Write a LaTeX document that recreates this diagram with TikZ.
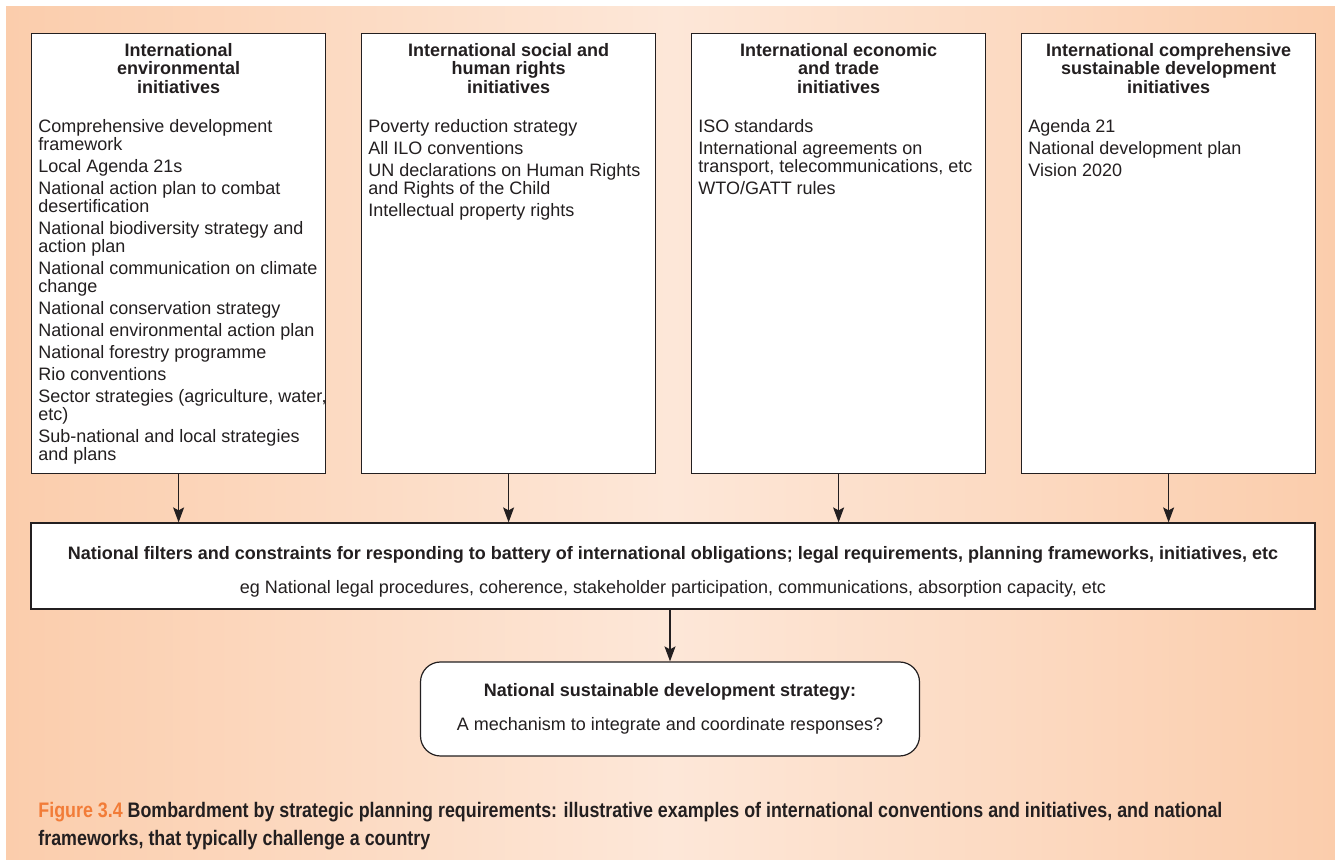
\documentclass[tikz,border=0pt]{standalone}
\usepackage{fontspec}
\setmainfont{Liberation Sans}
\newfontfamily\capfont[FakeStretch=0.85]{Liberation Sans}
\usetikzlibrary{arrows.meta,positioning}
\definecolor{bgedge}{HTML}{FBCDAC}
\definecolor{bgmid}{HTML}{FDE7D8}
\definecolor{figorange}{HTML}{F27C38}
\definecolor{inkgray}{HTML}{231F20}
\begin{document}
\begin{tikzpicture}[
    x=0.5pt, y=-0.5pt,
    font=\fontsize{9}{9}\selectfont, text=inkgray,
    initbox/.style={draw=inkgray, line width=0.6pt, fill=white, anchor=north west, minimum width=147pt, minimum height=220pt, inner sep=0pt},
    boxtitle/.style={align=center, inner sep=0pt, font=\fontsize{9}{9.2}\selectfont\bfseries},
    itemlist/.style={align=left, inner sep=0pt, anchor=north west},
    filterbox/.style={draw=inkgray, line width=0.6pt, fill=white, minimum width=642pt, minimum height=43pt, align=center, inner sep=0pt},
    strategybox/.style={draw=inkgray, line width=0.6pt, fill=white, rounded corners=10pt, minimum width=249.5pt, minimum height=47pt, align=center, inner sep=0pt},
    flow/.style={-{Stealth[length=7.5pt,width=5.5pt,inset=1.5pt]}, line width=0.7pt, draw=inkgray}
]
    % Hintergrund
    \useasboundingbox (0,0) rectangle (1335,860);
    \fill[white] (0,0) rectangle (1335,860);
    \shade[left color=bgedge, right color=bgedge, middle color=bgmid] (6,7) rectangle (1335,860);

    % Vier Initiativen
    \node[initbox] (envbox) at (31,33) {};
    \node[initbox] (socbox) at (361,33) {};
    \node[initbox] (ecobox) at (691,33) {};
    \node[initbox] (susbox) at (1021,33) {};

    \node[boxtitle, below=5pt of envbox.north] (envtitle) {International\\environmental\\initiatives};
    \node[boxtitle, below=5pt of socbox.north] (soctitle) {International social and\\human rights\\initiatives};
    \node[boxtitle, below=5pt of ecobox.north] (ecotitle) {International economic\\and trade\\initiatives};
    \node[boxtitle, below=5pt of susbox.north] (sustitle) {International comprehensive\\sustainable development\\initiatives};

    \node[itemlist] (envlist) at ([xshift=3.5pt,yshift=-43pt]envbox.north west) {Comprehensive development\\framework\\[2pt]
        Local Agenda 21s\\[2pt]
        National action plan to combat\\desertification\\[2pt]
        National biodiversity strategy and\\action plan\\[2pt]
        National communication on climate\\change\\[2pt]
        National conservation strategy\\[2pt]
        National environmental action plan\\[2pt]
        National forestry programme\\[2pt]
        Rio conventions\\[2pt]
        Sector strategies (agriculture, water,\\etc)\\[2pt]
        Sub-national and local strategies\\and plans};
    \node[itemlist] (soclist) at ([xshift=3.5pt,yshift=-43pt]socbox.north west) {Poverty reduction strategy\\[2pt]
        All ILO conventions\\[2pt]
        UN declarations on Human Rights\\and Rights of the Child\\[2pt]
        Intellectual property rights};
    \node[itemlist] (ecolist) at ([xshift=3.5pt,yshift=-43pt]ecobox.north west) {ISO standards\\[2pt]
        International agreements on\\transport, telecommunications, etc\\[2pt]
        WTO/GATT rules};
    \node[itemlist] (suslist) at ([xshift=3.5pt,yshift=-43pt]susbox.north west) {Agenda 21\\[2pt]
        National development plan\\[2pt]
        Vision 2020};

    % Nationale Filter
    \node[filterbox] (filters) at (673,566) {\rule{0pt}{12pt}\textbf{National filters and constraints for responding to battery of international obligations; legal requirements, planning frameworks, initiatives, etc}\\[8pt]
        eg National legal procedures, coherence, stakeholder participation, communications, absorption capacity, etc};

    % Strategie
    \node[strategybox] (strategy) at (670,709) {\textbf{National sustainable development strategy:}\\[8pt]
        A mechanism to integrate and coordinate responses?};

    % Pfeile
    \foreach \src in {envbox,socbox,ecobox,susbox}
        \draw[flow] (\src.south) -- (\src.south |- filters.north);
    \draw[flow] (strategy.north |- filters.south) -- (strategy.north);

    % Bildunterschrift
    \node[align=left, anchor=north west, inner sep=0pt, font=\capfont\bfseries\fontsize{10.5}{14}\selectfont] (caption) at (38,802) {\textcolor{figorange}{Figure 3.4} Bombardment by strategic planning requirements: illustrative examples of international conventions and initiatives, and national\\frameworks, that typically challenge a country};
\end{tikzpicture}
\end{document}
